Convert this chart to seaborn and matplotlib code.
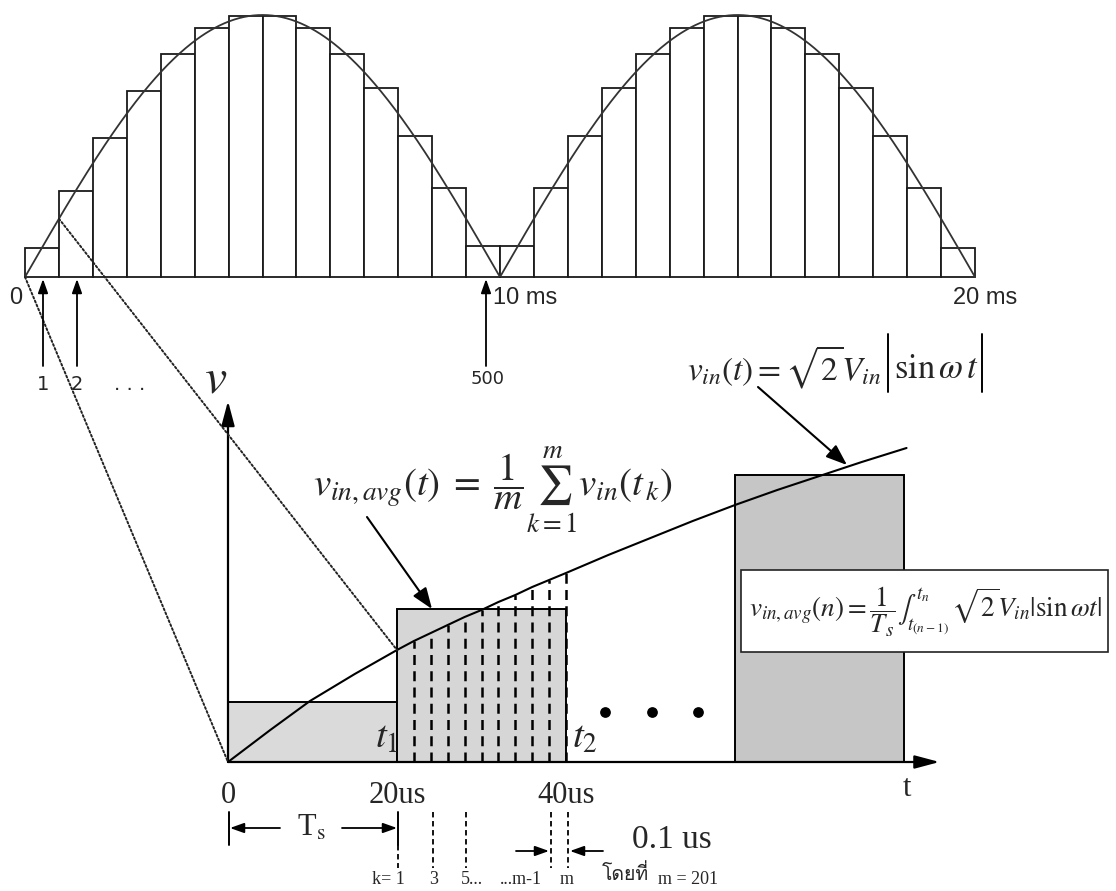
import numpy as np
import matplotlib
matplotlib.use("Agg")
import matplotlib.pyplot as plt
import seaborn as sns
from matplotlib.patches import Rectangle, ConnectionPatch
from matplotlib import font_manager, ft2font

# ---------------- data ----------------
# top panel: rectified mains voltage (two half cycles, 20 ms) and its
# staircase of segment averages (14 segments per half cycle)
period_ms = [0, 10, 20]
seg_heights = [0.11, 0.33, 0.53, 0.71, 0.85, 0.95, 0.995,
               0.995, 0.95, 0.85, 0.72, 0.54, 0.34, 0.12,
               0.12, 0.34, 0.54, 0.72, 0.85, 0.95, 0.995,
               0.995, 0.95, 0.85, 0.72, 0.54, 0.34, 0.11]

# bottom panel: the first microseconds of the rising edge
t_us = [0, 5, 9.7, 15, 20, 22, 24, 26, 28, 30, 32, 34, 36, 38, 40,
        45, 50, 55, 60, 65, 70, 75, 80.3]
v_curve = [0, 32, 61, 88, 112, 121, 129, 137, 145, 152, 160, 167, 175, 182, 189,
           207, 224, 241, 257, 272, 286, 300, 314]
sample_us = [22, 24, 26, 28, 30, 32, 34, 36, 38, 40]   # sub-samples inside 2nd period
avg_start_us = [0, 20, 60]
avg_height = [60, 153, 287]
avg_colors = ["#dadada", "#d6d6d6", "#c6c6c6"]
tick_us = [0, 20, 40]
tick_text = ["0", "20us", "40us"]

# ---------------- style ----------------
sns.set_theme(style="white")
plt.rcParams["font.family"] = ["Liberation Serif", "DejaVu Sans"]
plt.rcParams["mathtext.fontset"] = "stix"


def font_with(chars, fallback="DejaVu Sans"):
    for f in font_manager.fontManager.ttflist:
        try:
            cmap = ft2font.FT2Font(f.fname).get_charmap()
        except Exception:
            continue
        if all(ord(c) in cmap for c in chars):
            return f.name
    return fallback


THAI = font_with("โดยที่")

W, H = 1116, 891
fig = plt.figure(figsize=(W / 100, H / 100), dpi=100)
fig.patch.set_facecolor("white")


def px_axes(x0, y0, x1, y1, **kw):
    return fig.add_axes([x0 / W, 1 - y1 / H, (x1 - x0) / W, (y1 - y0) / H], **kw)


# ---------------- top panel ----------------
ax_top = px_axes(25, 15, 975, 277)
ax_top.set_xlim(period_ms[0], period_ms[-1])
ax_top.set_ylim(0, 1)
ax_top.axis("off")

n_seg = len(seg_heights)
seg_w = period_ms[-1] / n_seg
seg_left = np.arange(n_seg) * seg_w
ax_top.bar(seg_left, seg_heights, width=seg_w, align="edge",
           facecolor="white", edgecolor="#1a1a1a", linewidth=1.3, clip_on=False, zorder=2)
ax_top.axhline(0, color="#8a8a8a", lw=1.0, ls=(0, (5, 2)), zorder=1)

t_ms = np.linspace(period_ms[0], period_ms[-1], 800)
sns.lineplot(x=t_ms, y=np.abs(np.sin(np.pi * t_ms / period_ms[1])), ax=ax_top,
             color="#333333", lw=1.3, zorder=3, clip_on=False)

# ---------------- bottom panel ----------------
ax_bot = px_axes(228, 402, 940, 762)
ax_bot.set_xlim(0, 84.26)
ax_bot.set_ylim(0, 360)
for s in ax_bot.spines.values():
    s.set_visible(False)
ax_bot.patch.set_alpha(0)
ax_bot.set_yticks([])
ax_bot.set_xticks(tick_us, tick_text)
ax_bot.tick_params(axis="x", length=0, pad=14, labelsize=22)

ax_bot.bar(avg_start_us, avg_height, width=20, align="edge",
           color=avg_colors, edgecolor="black", linewidth=1.4, zorder=1)

sns.lineplot(x=t_us, y=v_curve, ax=ax_bot, color="black", lw=1.5, zorder=4)

v_at_sample = [v_curve[t_us.index(t)] for t in sample_us]
ax_bot.vlines(sample_us, 0, v_at_sample, colors="black", lw=1.8,
              linestyles=(0, (4, 2.5)), zorder=3)

head = dict(arrowstyle="-|>,head_length=0.75,head_width=0.2", color="black",
            lw=1.6, mutation_scale=20, shrinkA=0, shrinkB=0)
ax_bot.annotate("", xy=(0, 361), xytext=(0, 0), arrowprops=head, zorder=5,
                annotation_clip=False)
ax_bot.annotate("", xy=(84.2, 0), xytext=(0, 0), arrowprops=head, zorder=5,
                annotation_clip=False)

# dotted lines linking the zoomed region to the mains waveform
for (xa, ya), (xb, yb) in [((0, 0), (0, 0)),
                           ((seg_w, np.sin(np.pi * seg_w / period_ms[1])), (20, 112))]:
    con = ConnectionPatch(xyA=(xa, ya), coordsA=ax_top.transData,
                          xyB=(xb, yb), coordsB=ax_bot.transData,
                          color="#222222", lw=1.4, ls=(0, (1, 1.2)), zorder=6)
    fig.add_artist(con)

# ---------------- annotation layer (pixel coordinates) ----------------
ov = fig.add_axes([0, 0, 1, 1], zorder=10)
ov.set_xlim(0, W)
ov.set_ylim(H, 0)
ov.axis("off")
ov.patch.set_alpha(0)

sans = "Liberation Sans"
ov.text(16, 298, "0", fontsize=17, family=sans, ha="center", va="center")
ov.text(493, 298, "10 ms", fontsize=17, family=sans, ha="left", va="center")
ov.text(953, 298, "20 ms", fontsize=17, family=sans, ha="left", va="center")

small = dict(arrowstyle="-|>,head_length=0.7,head_width=0.25", color="black",
             lw=1.3, mutation_scale=12, shrinkA=0, shrinkB=0)
for x in [43, 77, 486]:
    ov.annotate("", xy=(x, 279), xytext=(x, 366), arrowprops=small)
ov.text(43, 384, "1", fontsize=14, family="DejaVu Sans", ha="center", va="center")
ov.text(77, 384, "2", fontsize=14, family="DejaVu Sans", ha="center", va="center")
ov.text(130, 384, ". . .", fontsize=14, family="DejaVu Sans", ha="center", va="center")
ov.text(488, 379, "500", fontsize=13, family="DejaVu Sans", ha="center", va="center")

ov.text(216, 380, r"$v$", fontsize=36, ha="center", va="center")
ov.text(907, 788, "t", fontsize=22, ha="center", va="center")

ov.text(313, 490, r"$v_{in,avg}(t)\;=\;\dfrac{1}{m}\sum_{k=1}^{m}v_{in}(t_{\,k})$",
        fontsize=28, ha="left", va="center")

# v_in(t) formula with tall absolute-value bars
ov.text(881, 367, r"$v_{in}(t)=\sqrt{2}V_{in}$", fontsize=24, ha="right", va="center")
ov.text(894, 369, r"$\sin\omega\,t$", fontsize=25, ha="left", va="center")
for x in [888, 982]:
    ov.plot([x, x], [334, 392], color="black", lw=1.4)

arr = dict(arrowstyle="-|>,head_length=0.8,head_width=0.3", color="black",
           lw=1.5, mutation_scale=16, shrinkA=0, shrinkB=0)
ov.annotate("", xy=(432, 609), xytext=(367, 517), arrowprops=arr)
ov.annotate("", xy=(847, 465), xytext=(758, 387), arrowprops=arr)

ov.add_patch(Rectangle((741, 570), 367, 82, facecolor="white", edgecolor="#222222", lw=1.2))
ov.text(925, 612,
        r"$v_{in,avg}(n)=\dfrac{1}{T_s}\int_{t_{(n-1)}}^{t_n}\,\sqrt{2}V_{in}|\sin\omega t|$",
        fontsize=19.5, ha="center", va="center")

ov.text(387, 738, r"$t_1$", fontsize=28, ha="center", va="center")
ov.text(585, 738, r"$t_2$", fontsize=28, ha="center", va="center")
ov.scatter([605, 652, 698], [712, 712, 712], s=45, color="black")

# sampling-period dimension line
for x in [229, 398]:
    ov.plot([x, x], [812, 845], color="black", lw=1.4)
ov.annotate("", xy=(230, 828), xytext=(280, 828), arrowprops=small)
ov.annotate("", xy=(397, 828), xytext=(342, 828), arrowprops=small)
ov.text(311, 828, r"T$_\mathrm{s}$", fontsize=22, ha="center", va="center")

for x, y0 in [(398, 845), (433, 812), (466, 812), (551, 812), (568, 812)]:
    ov.plot([x, x], [y0, 868], color="black", lw=1.3, ls=(0, (3, 2)))
ov.annotate("", xy=(549, 851), xytext=(516, 851), arrowprops=small)
ov.annotate("", xy=(570, 851), xytext=(603, 851), arrowprops=small)
ov.text(632, 840, "0.1 us", fontsize=24, ha="left", va="center")

lab = dict(fontsize=13, va="center")
ov.text(405, 879, "k= 1", ha="right", **lab)
ov.text(434, 879, "3", ha="center", **lab)
ov.text(461, 879, "5...", ha="left", **lab)
ov.text(500, 879, "...m-1", ha="left", **lab)
ov.text(567, 879, "m", ha="center", **lab)
ov.text(602, 874, "โดยที่", ha="left", fontsize=14, va="center", family=[THAI, "DejaVu Sans"])
ov.text(658, 879, "m = 201", ha="left", **lab)

fig.savefig("out.png", dpi=100, facecolor="white")
